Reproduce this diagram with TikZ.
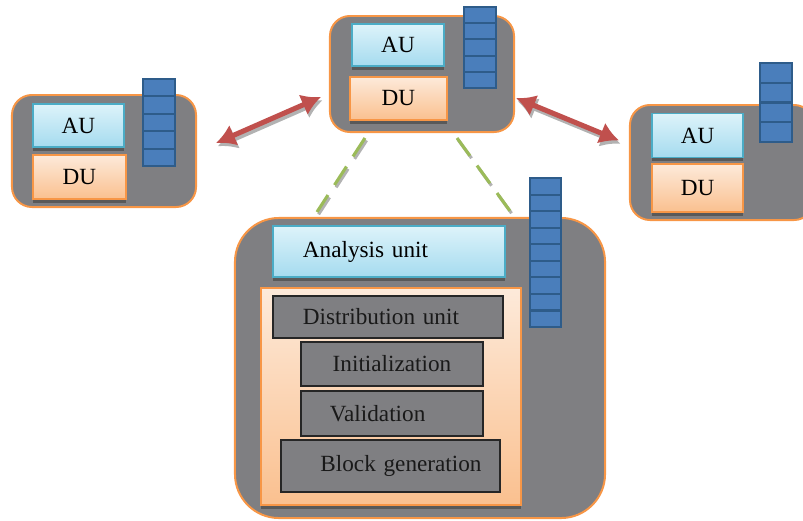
\documentclass[tikz,border=0pt]{standalone}
\usepackage{fontspec}
\setmainfont{Liberation Serif}
\usetikzlibrary{arrows.meta,shadows}
\definecolor{auTop}{HTML}{DDF3FA}
\definecolor{auBot}{HTML}{A5DBEF}
\definecolor{auLine}{HTML}{4BACC6}
\definecolor{duTop}{HTML}{FDEADA}
\definecolor{duBot}{HTML}{FAC08F}
\definecolor{duLine}{HTML}{F79646}
\definecolor{hostGray}{HTML}{7F7F82}
\definecolor{cellFill}{HTML}{4A7EBB}
\definecolor{cellLine}{HTML}{2E5C8A}
\definecolor{linkRed}{HTML}{C0504D}
\definecolor{linkGreen}{HTML}{9BBB59}

\begin{document}
\begin{tikzpicture}[x=0.025cm, y=-0.025cm, font=\fontsize{16.5}{19}\selectfont,
  host/.style={draw=duLine, line width=1.4pt, fill=hostGray, rounded corners=0.5cm, inner sep=0pt},
  shade/.style={drop shadow={shadow xshift=0pt, shadow yshift=-0.09cm, fill=black!65, opacity=1}},
  au/.style={draw=auLine, line width=1.2pt, top color=auTop, bottom color=auBot, inner sep=0pt, shade},
  du/.style={draw=duLine, line width=1.2pt, top color=duTop, bottom color=duBot, inner sep=0pt, shade},
  stage/.style={draw=black!85, line width=0.8pt, fill=hostGray, inner sep=0pt, text=black!90},
  cell/.style={draw=cellLine, line width=1.5pt, fill=cellFill, minimum width=0.8cm, inner sep=0pt},
  link/.style={{Latex[length=4.8mm,width=5.6mm]}-{Latex[length=4.8mm,width=5.6mm]}, line width=3.6pt, draw=linkRed},
  linkshadow/.style={link, draw=black!30, transform canvas={xshift=0.04cm,yshift=-0.08cm}},
  pair/.style={line width=2.2pt, draw=linkGreen, dash pattern=on 0.55cm off 0.3cm},
  pairshadow/.style={pair, draw=black!30, transform canvas={xshift=0.04cm,yshift=-0.06cm}}]
\useasboundingbox (0,0) rectangle (803,520);
\clip (0,0) rectangle (803,520);

% top peer
\node[host, minimum width=4.6cm, minimum height=2.9cm] (top) at (422,74) {};
\node[au, minimum width=2.3cm, minimum height=1.05cm] (topau) at (398,45) {AU};
\node[du, minimum width=2.425cm, minimum height=1.075cm] (topdu) at (398.5,98.5) {DU};
\foreach \i in {1,...,5} \node[cell, minimum height=0.405cm] (tq\i) at (480,{7+16.2*\i-8.1}) {};

% left peer
\node[host, minimum width=4.6cm, minimum height=2.8cm] (left) at (104,151) {};
\node[au, minimum width=2.275cm, minimum height=1.075cm] (leftau) at (78.5,125.5) {AU};
\node[du, minimum width=2.325cm, minimum height=1.1cm] (leftdu) at (79.5,177) {DU};
\foreach \i in {1,...,5} \node[cell, minimum height=0.435cm] (lq\i) at (159,{79+17.4*\i-8.7}) {};

% right peer
\node[host, minimum width=4.6cm, minimum height=2.875cm] (right) at (722,162.5) {};
\node[au, minimum width=2.275cm, minimum height=1.1cm] (rightau) at (697.5,135.5) {AU};
\node[du, minimum width=2.275cm, minimum height=1.2cm] (rightdu) at (697.5,188) {DU};
\foreach \i in {1,...,4} \node[cell, minimum height=0.494cm] (rq\i) at (776,{63+19.75*\i-9.875}) {};

% detailed node
\node[host, rounded corners=1.1cm, minimum width=9.25cm, minimum height=7.5cm] (big) at (420,368) {};
\node[au, minimum height=1.275cm, text width=4.3cm, inner xsep=0.75cm, align=left] (ana) at (389,251.5) {Analysis unit};
\node[du, minimum width=6.5cm, minimum height=5.425cm] (panel) at (391,396.5) {};
\node[stage, minimum height=1.05cm, text width=4.25cm, inner xsep=0.75cm, align=left] (dist) at (388,317) {Distribution unit};
\node[stage, minimum width=4.55cm, minimum height=1.1cm] (init) at (392,364) {Initialization};
\node[stage, minimum height=1.125cm, text width=3.1cm, inner xsep=0.725cm, align=left] (valid) at (392,413.5) {Validation};
\node[stage, minimum height=1.3cm, text width=4.55cm, inner xsep=0.4625cm, align=right] (blockgen) at (390.5,466) {Block generation};
\foreach \i in {1,...,9} \node[cell, minimum width=0.775cm, minimum height=0.414cm] (bq\i) at (545.5,{178+16.56*\i-8.28}) {};

% links between peers
\draw[linkshadow] ([xshift=0.475cm,yshift=0.2cm]left.east) -- ([xshift=-0.2cm,yshift=-0.575cm]top.west);
\draw[link] ([xshift=0.475cm,yshift=0.2cm]left.east) -- ([xshift=-0.2cm,yshift=-0.575cm]top.west);
\draw[linkshadow] ([xshift=0.025cm,yshift=-0.6cm]top.east) -- ([xshift=-0.25cm,yshift=0.55cm]right.west);
\draw[link] ([xshift=0.025cm,yshift=-0.6cm]top.east) -- ([xshift=-0.25cm,yshift=0.55cm]right.west);
\draw[pairshadow] ([xshift=-1.425cm,yshift=-0.125cm]top.south) -- ([xshift=-2.575cm,yshift=0.125cm]big.north);
\draw[pair] ([xshift=-1.425cm,yshift=-0.125cm]top.south) -- ([xshift=-2.575cm,yshift=0.125cm]big.north);
\draw[pairshadow] ([xshift=0.875cm,yshift=-0.125cm]top.south) -- ([xshift=2.25cm,yshift=0.15cm]big.north);
\draw[pair] ([xshift=0.875cm,yshift=-0.125cm]top.south) -- ([xshift=2.25cm,yshift=0.15cm]big.north);
\end{tikzpicture}
\end{document}
